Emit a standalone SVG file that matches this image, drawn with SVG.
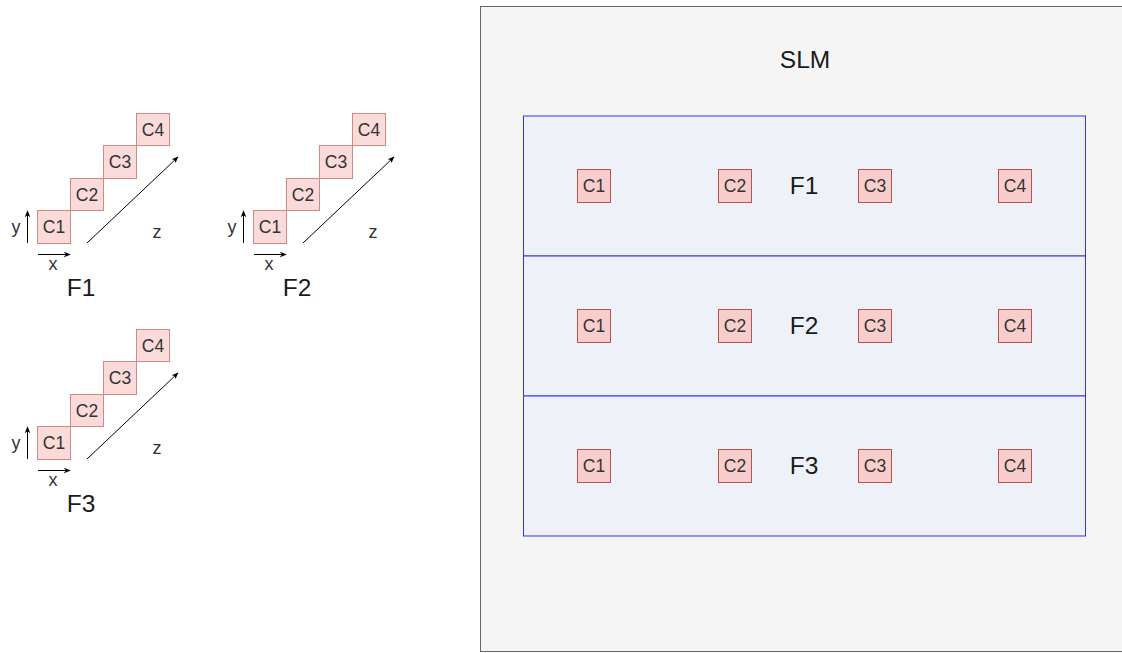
<svg xmlns="http://www.w3.org/2000/svg" width="1122" height="653" viewBox="0 0 1122 653">
<style>
text{font-family:"Liberation Sans",Arial,sans-serif;fill:#333333;text-anchor:middle;dominant-baseline:central}
.c{font-size:17.5px}
.lc{fill:#fadbd9;stroke:#cf8a86;stroke-width:1}
.sc{fill:#f8cecc;stroke:#b85450;stroke-width:1}
.big{font-size:24.5px;fill:#1a1a1a}
.ax{font-size:18px}
.ln{stroke:#000;stroke-width:1;fill:none}
.row{fill:#eef1f7;stroke:#3333ff;stroke-width:1}
</style>
<defs>
<marker id="ah" viewBox="0 0 10 10" refX="9" refY="5" markerWidth="7" markerHeight="7" orient="auto" markerUnits="userSpaceOnUse">
<path d="M0,1 L10,5 L0,9 L3,5 z" fill="#000"/>
</marker>
<g id="stack">
<rect class="lc" x="37.5" y="210.5" width="33" height="33"/>
<text class="c" x="54" y="227">C1</text>
<rect class="lc" x="70.5" y="178.5" width="33" height="32"/>
<text class="c" x="87" y="194.5">C2</text>
<rect class="lc" x="103.5" y="145.5" width="33" height="33"/>
<text class="c" x="120" y="162">C3</text>
<rect class="lc" x="136.5" y="113.5" width="33" height="32"/>
<text class="c" x="153" y="129.5">C4</text>
<line class="ln" x1="87" y1="243" x2="178" y2="157" marker-end="url(#ah)"/>
<text class="ax" x="157" y="232">z</text>
<line class="ln" x1="27.5" y1="243" x2="27.5" y2="211" marker-end="url(#ah)"/>
<text class="ax" x="16" y="227">y</text>
<line class="ln" x1="38" y1="254.5" x2="70" y2="254.5" marker-end="url(#ah)"/>
<text class="ax" x="53" y="264">x</text>
</g>
</defs>
<g id="F1-left">
<use href="#stack"/>
<text class="big" x="81" y="287">F1</text>
</g>
<g id="F2-left">
<use href="#stack" x="216"/>
<text class="big" x="297" y="287">F2</text>
</g>
<g id="F3-left">
<use href="#stack" y="216"/>
<text class="big" x="81" y="503">F3</text>
</g>
<g id="SLM">
<rect x="480.5" y="6.5" width="650" height="645" fill="#f5f5f5" stroke="#666666" stroke-width="1"/>
<text class="big" x="805" y="59">SLM</text>
</g>
<g id="row-F1">
<rect class="row" x="523.5" y="116" width="562" height="140"/>
<text class="big" x="804" y="185.5">F1</text>
<rect class="sc" x="577.5" y="169.5" width="33" height="33"/><text class="c" x="594" y="186">C1</text>
<rect class="sc" x="718.5" y="169.5" width="33" height="33"/><text class="c" x="735" y="186">C2</text>
<rect class="sc" x="858.5" y="169.5" width="33" height="33"/><text class="c" x="875" y="186">C3</text>
<rect class="sc" x="998.5" y="169.5" width="33" height="33"/><text class="c" x="1015" y="186">C4</text>
</g>
<g id="row-F2">
<rect class="row" x="523.5" y="256" width="562" height="140"/>
<text class="big" x="804" y="325.5">F2</text>
<rect class="sc" x="577.5" y="309.5" width="33" height="33"/><text class="c" x="594" y="326">C1</text>
<rect class="sc" x="718.5" y="309.5" width="33" height="33"/><text class="c" x="735" y="326">C2</text>
<rect class="sc" x="858.5" y="309.5" width="33" height="33"/><text class="c" x="875" y="326">C3</text>
<rect class="sc" x="998.5" y="309.5" width="33" height="33"/><text class="c" x="1015" y="326">C4</text>
</g>
<g id="row-F3">
<rect class="row" x="523.5" y="396" width="562" height="140"/>
<text class="big" x="804" y="465.5">F3</text>
<rect class="sc" x="577.5" y="449.5" width="33" height="33"/><text class="c" x="594" y="466">C1</text>
<rect class="sc" x="718.5" y="449.5" width="33" height="33"/><text class="c" x="735" y="466">C2</text>
<rect class="sc" x="858.5" y="449.5" width="33" height="33"/><text class="c" x="875" y="466">C3</text>
<rect class="sc" x="998.5" y="449.5" width="33" height="33"/><text class="c" x="1015" y="466">C4</text>
</g>
<g id="connectors"></g>
</svg>
